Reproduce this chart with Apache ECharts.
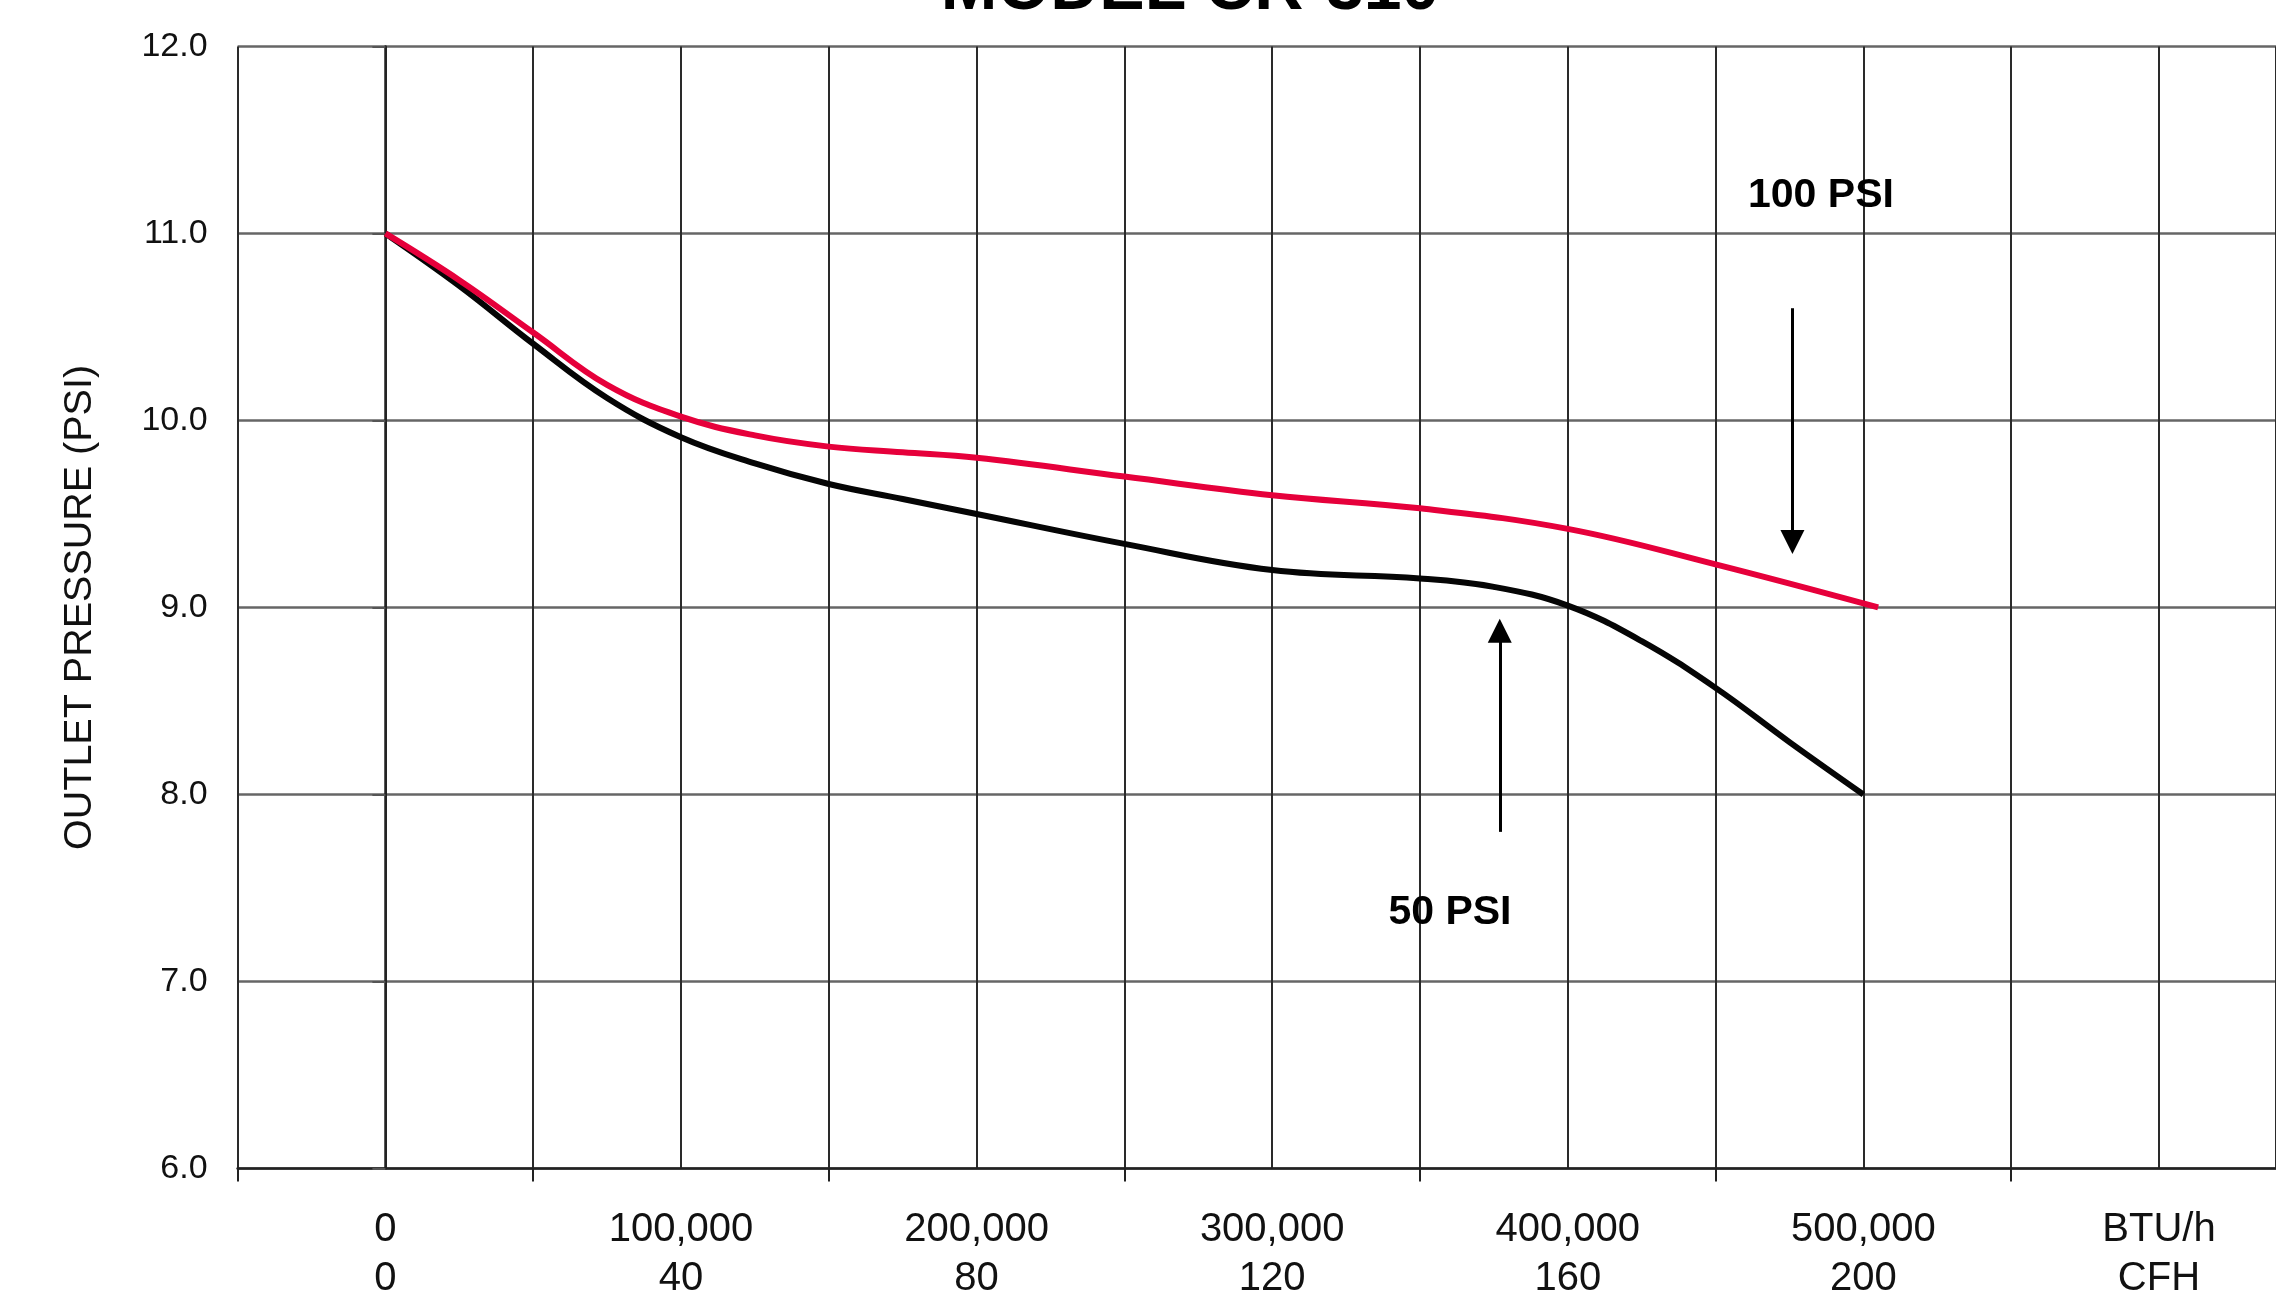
<!DOCTYPE html>
<html>
<head>
<meta charset="utf-8">
<script src="https://cdn.jsdelivr.net/npm/echarts@6/dist/echarts.min.js"></script>
<style>
html,body{margin:0;padding:0;background:#ffffff;}
#chart{width:2276px;height:1305px;}
</style>
</head>
<body>
<div id="chart"></div>
<script>
// ---- data ----
const titleText = 'MODEL CR-310';
const yAxisTitle = 'OUTLET PRESSURE (PSI)';
const labelValues = [0, 100000, 200000, 300000, 400000, 500000, 600000];
const btuLabels = ['0', '100,000', '200,000', '300,000', '400,000', '500,000', 'BTU/h'];
const cfhLabels = ['0', '40', '80', '120', '160', '200', 'CFH'];
const tickValues = [-50000, 50000, 150000, 250000, 350000, 450000, 550000];

const psi100 = [
  [0, 11.0], [25000, 10.75], [50000, 10.47], [75000, 10.19], [100000, 10.02],
  [125000, 9.92], [150000, 9.86], [175000, 9.83], [200000, 9.80], [250000, 9.70],
  [300000, 9.60], [350000, 9.53], [400000, 9.42], [450000, 9.23], [505000, 9.0]
];
const psi50 = [
  [0, 11.0], [25000, 10.72], [50000, 10.41], [75000, 10.12], [100000, 9.91],
  [125000, 9.77], [150000, 9.66], [175000, 9.58], [200000, 9.50], [250000, 9.34],
  [300000, 9.20], [350000, 9.155], [375000, 9.11], [400000, 9.01], [425000, 8.82],
  [450000, 8.57], [475000, 8.28], [500000, 8.0]
];
const annotNames = ['100 PSI', '50 PSI'];
const annotPos = [[485650, 11.20], [360150, 7.37]];
const arrowX = [476000, 377000];
const arrowFrom = [10.60, 7.80];
const arrowTo = [9.35, 8.875];

// ---- chart ----
const chart = echarts.init(document.getElementById('chart'), null, {renderer: 'canvas'});
const FONT = 'Liberation Sans, Arial, sans-serif';
const X_MIN = -50000, X_MAX = 639600;

const option = {
  backgroundColor: '#ffffff',
  animation: false,
  graphic: [{
    type: 'text',
    x: 1190, y: 24,
    style: {
      text: titleText, align: 'center', verticalAlign: 'bottom',
      font: 'bold 68px ' + FONT, fill: '#000'
    }
  }],
  grid: {left: 237.6, top: 46.4, right: 0, bottom: 136.5, containLabel: false},
  xAxis: [
    {
      type: 'value', min: X_MIN, max: X_MAX, interval: 50000, position: 'bottom',
      axisLine: {show: true, onZero: false, lineStyle: {color: '#222', width: 2.5}},
      axisTick: {show: false},
      axisLabel: {
        show: true, customValues: labelValues, margin: 37,
        fontFamily: FONT, fontSize: 40, lineHeight: 49, color: '#111',
        formatter: function (v) {
          const i = labelValues.indexOf(v);
          return i >= 0 ? btuLabels[i] + '\n' + cfhLabels[i] : '';
        }
      },
      splitLine: {show: true, lineStyle: {color: '#2a2a2a', width: 2}}
    },
    {
      type: 'value', min: X_MIN, max: X_MAX, interval: 50000, position: 'bottom',
      axisLine: {show: false, onZero: false},
      axisTick: {show: true, customValues: tickValues, length: 13, lineStyle: {color: '#222', width: 2}},
      axisLabel: {show: false},
      splitLine: {show: false}
    }
  ],
  yAxis: {
    type: 'value', min: 6, max: 12, interval: 1,
    name: yAxisTitle, nameLocation: 'middle', nameGap: 137, nameRotate: 90,
    nameTextStyle: {fontFamily: FONT, fontSize: 39.5, color: '#111'},
    axisLine: {show: true, lineStyle: {color: '#222', width: 2.5}},
    axisTick: {show: true, length: 13, lineStyle: {color: '#555', width: 2}},
    axisLabel: {
      margin: 30, fontFamily: FONT, fontSize: 34, color: '#111',
      formatter: function (v) { return v.toFixed(1); }
    },
    splitLine: {show: true, lineStyle: {color: '#666', width: 2.5}}
  },
  series: [
    {
      name: '50 PSI', type: 'line', data: psi50, smooth: 0.4,
      showSymbol: false, symbol: 'none',
      lineStyle: {color: '#050505', width: 6}, z: 3
    },
    {
      name: '100 PSI', type: 'line', data: psi100, smooth: 0.4,
      showSymbol: false, symbol: 'none',
      lineStyle: {color: '#e6003b', width: 6}, z: 4
    },
    {
      name: 'annotations', type: 'scatter', symbolSize: 0,
      itemStyle: {opacity: 1},
      data: annotPos.map(function (p, i) { return {name: annotNames[i], value: p}; }),
      label: {
        show: true, position: 'inside', formatter: '{b}', opacity: 1,
        fontFamily: FONT, fontWeight: 'bold', fontSize: 41, color: '#000000',
        textBorderWidth: 0
      },
      silent: true,
      markLine: {
        silent: true, animation: false,
        symbol: ['none', 'triangle'], symbolSize: [24, 24],
        label: {show: false},
        lineStyle: {color: '#000', width: 3, type: 'solid', opacity: 1},
        data: arrowX.map(function (x, i) {
          return [{coord: [x, arrowFrom[i]]}, {coord: [x, arrowTo[i]]}];
        })
      }
    }
  ]
};
chart.setOption(option);
</script>
</body>
</html>
